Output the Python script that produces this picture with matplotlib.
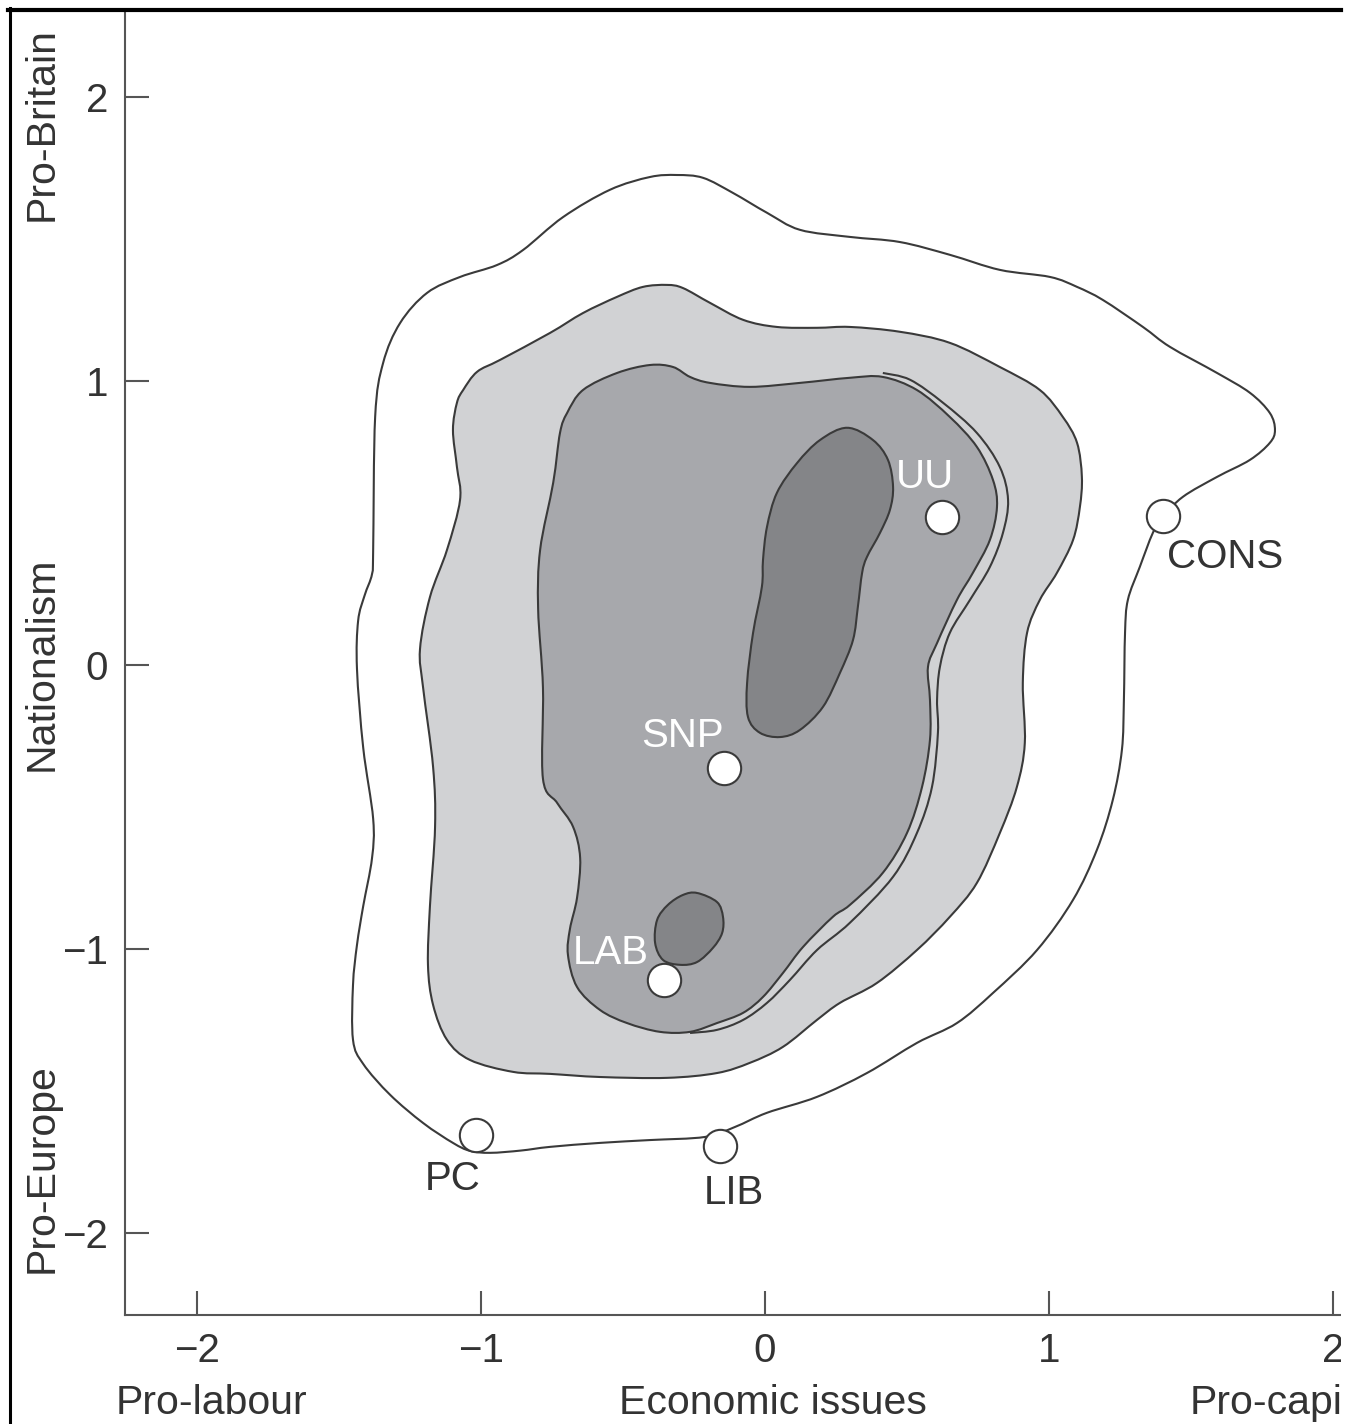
import numpy as np
import matplotlib
matplotlib.use("Agg")
import matplotlib.pyplot as plt
from matplotlib.path import Path
from matplotlib.patches import PathPatch, Rectangle
from matplotlib.lines import Line2D

plt.rcParams['font.family'] = ['Liberation Sans', 'DejaVu Sans']

# ----------------------------
# data: contour outlines (economic, nationalism)
# ----------------------------
outer_x = [-1.380, -1.373, -1.345, -1.285, -1.190, -1.074, -0.944, -0.852, -0.711, -0.546,
           -0.405, -0.310, -0.218, -0.113, 0.007, 0.123, 0.299, 0.475, 0.651, 0.827,
           1.004, 1.099, 1.190, 1.331, 1.426, 1.592, 1.708, 1.778, 1.796, 1.778,
           1.708, 1.592, 1.472, 1.401, 1.366, 1.320, 1.278, 1.268, 1.264, 1.257,
           1.225, 1.169, 1.085, 0.958, 0.803, 0.676, 0.535, 0.359, 0.183, 0.007,
           -0.106, -0.211, -0.405, -0.581, -0.757, -0.860, -0.968, -1.039, -1.099, -1.204,
           -1.320, -1.415, -1.451, -1.451, -1.437, -1.415, -1.384, -1.380, -1.415, -1.437,
           -1.433, -1.410, -1.384]
outer_y = [0.405, 0.873, 1.063, 1.204, 1.310, 1.366, 1.408, 1.461, 1.577, 1.673,
           1.718, 1.725, 1.715, 1.662, 1.592, 1.532, 1.507, 1.489, 1.444, 1.391,
           1.366, 1.331, 1.285, 1.190, 1.120, 1.028, 0.958, 0.887, 0.827, 0.782,
           0.722, 0.662, 0.592, 0.521, 0.465, 0.345, 0.229, 0.113, -0.123, -0.299,
           -0.475, -0.651, -0.827, -1.004, -1.155, -1.261, -1.331, -1.437, -1.521, -1.577,
           -1.627, -1.662, -1.673, -1.683, -1.697, -1.710, -1.718, -1.711, -1.683, -1.613,
           -1.514, -1.405, -1.320, -1.127, -0.986, -0.849, -0.680, -0.542, -0.292, -0.014,
           0.155, 0.245, 0.320]

light_x = [-1.120, -1.074, -1.085, -1.099, -1.085, -1.063, -1.014, -0.933, -0.757, -0.641,
           -0.521, -0.430, -0.345, -0.289, -0.194, -0.077, 0.042, 0.183, 0.299, 0.475,
           0.651, 0.827, 0.968, 1.049, 1.099, 1.116, 1.109, 1.085, 1.028, 0.968,
           0.923, 0.908, 0.915, 0.887, 0.827, 0.746, 0.651, 0.535, 0.394, 0.264,
           0.183, 0.063, -0.053, -0.169, -0.345, -0.581, -0.757, -0.887, -1.039, -1.120,
           -1.169, -1.187, -1.180, -1.162, -1.169, -1.204, -1.215, -1.180]
light_y = [0.405, 0.581, 0.697, 0.827, 0.923, 0.968, 1.032, 1.074, 1.169, 1.239,
           1.296, 1.331, 1.338, 1.327, 1.275, 1.215, 1.190, 1.187, 1.190, 1.173,
           1.134, 1.049, 0.968, 0.873, 0.782, 0.662, 0.556, 0.440, 0.324, 0.229,
           0.113, -0.063, -0.275, -0.430, -0.592, -0.768, -0.887, -1.004, -1.120, -1.190,
           -1.250, -1.345, -1.401, -1.437, -1.454, -1.451, -1.440, -1.433, -1.391, -1.320,
           -1.197, -1.056, -0.849, -0.570, -0.359, -0.081, 0.056, 0.239]

mid_x = [-0.792, -0.746, -0.722, -0.697, -0.641, -0.521, -0.405, -0.324, -0.264, -0.194,
         -0.053, 0.123, 0.299, 0.415, 0.535, 0.651, 0.746, 0.803, 0.817, 0.792,
         0.732, 0.676, 0.606, 0.574, 0.581, 0.581, 0.553, 0.500, 0.415, 0.299,
         0.239, 0.134, 0.063, -0.007, -0.077, -0.169, -0.264, -0.370, -0.486, -0.581,
         -0.662, -0.694, -0.687, -0.662, -0.651, -0.676, -0.732, -0.782, -0.782, -0.799]
mid_y = [0.405, 0.641, 0.817, 0.887, 0.968, 1.028, 1.056, 1.049, 1.014, 0.993,
         0.979, 0.993, 1.011, 1.014, 0.968, 0.873, 0.768, 0.651, 0.556, 0.440,
         0.324, 0.229, 0.077, -0.007, -0.123, -0.264, -0.430, -0.592, -0.732, -0.845,
         -0.887, -0.993, -1.085, -1.169, -1.225, -1.261, -1.292, -1.292, -1.261, -1.215,
         -1.134, -1.021, -0.930, -0.820, -0.680, -0.570, -0.486, -0.401, -0.081, 0.197]

# second level-3 line that runs just outside the right edge
edge_x = [0.415, 0.511, 0.627, 0.746, 0.827, 0.856, 0.838, 0.792, 0.722, 0.651,
          0.616, 0.606, 0.609, 0.588, 0.535, 0.451, 0.299, 0.183, 0.088, 0.007,
          -0.077, -0.169, -0.264]
edge_y = [1.028, 1.004, 0.923, 0.817, 0.697, 0.581, 0.465, 0.345, 0.229, 0.113,
          -0.007, -0.123, -0.239, -0.430, -0.592, -0.746, -0.908, -1.004, -1.109, -1.190,
          -1.250, -1.285, -1.296]

dark1_x = [0.289, 0.380, 0.433, 0.451, 0.440, 0.405, 0.359, 0.342, 0.327, 0.310,
           0.264, 0.204, 0.123, 0.053, -0.018, -0.060, -0.063, -0.042, -0.011, -0.007,
           0.007, 0.042, 0.113, 0.194]
dark1_y = [0.835, 0.792, 0.722, 0.627, 0.546, 0.465, 0.380, 0.324, 0.204, 0.088,
           -0.028, -0.148, -0.229, -0.254, -0.239, -0.183, -0.063, 0.113, 0.275, 0.370,
           0.486, 0.606, 0.711, 0.792]

dark2_x = [-0.239, -0.169, -0.148, -0.151, -0.183, -0.239, -0.299, -0.359, -0.387, -0.380,
           -0.342, -0.289]
dark2_y = [-0.803, -0.835, -0.887, -0.944, -0.996, -1.046, -1.056, -1.039, -0.979, -0.898,
           -0.845, -0.810]

# party positions
parties = ["UU", "CONS", "SNP", "LAB", "PC", "LIB"]
party_x = [0.623, 1.401, -0.144, -0.356, -1.018, -0.158]
party_y = [0.521, 0.525, -0.363, -1.109, -1.655, -1.694]

ticks = [-2, -1, 0, 1, 2]

# ----------------------------
# helpers
# ----------------------------
def smooth_path(xs, ys, closed=True):
    # Catmull-Rom through the points, drawn as cubic Bezier pieces
    p = np.column_stack([xs, ys])
    n = len(p)
    verts = [p[0]]
    codes = [Path.MOVETO]
    segs = n if closed else n - 1
    for i in range(segs):
        p0 = p[(i - 1) % n] if (closed or i > 0) else p[0]
        p1 = p[i % n]
        p2 = p[(i + 1) % n]
        p3 = p[(i + 2) % n] if (closed or i + 2 < n) else p[-1]
        verts += [p1 + (p2 - p0) / 6.0, p2 - (p3 - p1) / 6.0, p2]
        codes += [Path.CURVE4] * 3
    return Path(verts, codes)


line_col = "#3a3a3a"
lw = 1.5

fig = plt.figure(figsize=(13.5, 14.24), dpi=100)
ax = fig.add_axes([125 / 1350, 109 / 1424, 1280 / 1350, 1305 / 1424])

fills = [(outer_x, outer_y, "white"),
         (light_x, light_y, "#d1d2d4"),
         (mid_x, mid_y, "#a7a8ac"),
         (dark1_x, dark1_y, "#848588"),
         (dark2_x, dark2_y, "#848588")]
for z, (xs, ys, col) in enumerate(fills):
    ax.add_patch(PathPatch(smooth_path(xs, ys), facecolor=col, edgecolor=line_col,
                           lw=lw, zorder=2 + z))
ax.add_patch(PathPatch(smooth_path(edge_x, edge_y, closed=False), facecolor="none",
                       edgecolor=line_col, lw=lw, zorder=4.5))

ax.plot(party_x, party_y, "o", ms=24, mfc="white", mec=line_col, mew=1.5, zorder=10)

label_off = {"UU": (-12, 29), "CONS": (45, -30), "SNP": (-30, 23),
             "LAB": (-38, 19), "PC": (-17, -32), "LIB": (10, -34)}
white_lab = {"UU", "SNP", "LAB"}
for name, x, y in zip(parties, party_x, party_y):
    ax.annotate(name, (x, y), xytext=label_off[name], textcoords="offset points",
                ha="center", va="center", fontsize=29,
                color="white" if name in white_lab else "#333333", zorder=11)

ax.set_xlim(-2.254, 2.254)
ax.set_ylim(-2.289, 2.306)
ax.set_xticks(ticks)
ax.set_yticks(ticks)
ax.tick_params(direction="in", length=17, width=1.5, color="#555555",
               labelsize=29, labelcolor="#333333", pad=12)
for s in ["top", "right"]:
    ax.spines[s].set_visible(False)
for s in ["left", "bottom"]:
    ax.spines[s].set_color("#555555")
    ax.spines[s].set_linewidth(1.5)

# axis captions
tc = "#333333"
fs = 29.5
fig.text(211 / 1350, 1 - 1403 / 1424, "Pro-labour", ha="center", va="center", fontsize=fs, color=tc)
fig.text(773 / 1350, 1 - 1403 / 1424, "Economic issues", ha="center", va="center", fontsize=fs, color=tc)
fig.text(1190 / 1350, 1 - 1403 / 1424, "Pro-capital", ha="left", va="center", fontsize=fs, color=tc)
fig.text(42 / 1350, 1 - 124 / 1424, "Pro-Britain", ha="center", va="center", rotation=90, fontsize=fs, color=tc)
fig.text(42 / 1350, 1 - 664 / 1424, "Nationalism", ha="center", va="center", rotation=90, fontsize=fs, color=tc)
fig.text(42 / 1350, 1 - 1168 / 1424, "Pro-Europe", ha="center", va="center", rotation=90, fontsize=fs, color=tc)

# cropped-scan frame
fig.add_artist(Rectangle((1341 / 1350, 0), 9 / 1350, 1, transform=fig.transFigure,
                         facecolor="white", edgecolor="none", zorder=20))
fig.add_artist(Line2D([8 / 1350, 1341 / 1350], [1 - 9.5 / 1424] * 2, transform=fig.transFigure,
                      color="black", lw=3, zorder=21))
fig.add_artist(Line2D([9.5 / 1350] * 2, [0, 1 - 8 / 1424], transform=fig.transFigure,
                      color="black", lw=2.2, zorder=21))

fig.savefig("out.png", dpi=100)
